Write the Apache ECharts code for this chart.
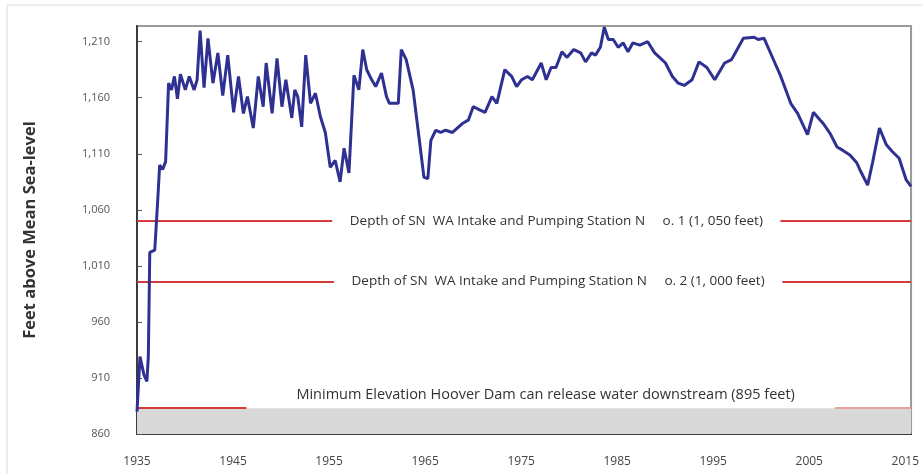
<!DOCTYPE html>
<html>
<head>
<meta charset="utf-8">
<script src="https://cdn.jsdelivr.net/npm/echarts@6/dist/echarts.min.js"></script>
<style>
  html, body { margin: 0; padding: 0; background: #fff; }
  #chart { width: 922px; height: 474px; }
</style>
</head>
<body>
<div id="chart"></div>
<script>
// Lake Mead surface elevation
const years = [1935.00,1935.31,1935.72,1936.03,1936.18,1936.33,1936.85,1937.16,1937.36,1937.67,
  1937.98,1938.29,1938.59,1938.90,1939.21,1939.52,1940.03,1940.44,1940.95,1941.26,
  1941.57,1941.98,1942.39,1942.91,1943.42,1943.93,1944.45,1945.06,1945.57,1946.08,
  1946.50,1947.11,1947.63,1948.14,1948.45,1949.07,1949.58,1950.09,1950.50,1951.12,
  1951.43,1951.74,1952.15,1952.57,1953.07,1953.58,1954.10,1954.61,1955.12,1955.64,
  1956.15,1956.56,1957.07,1957.59,1958.10,1958.51,1958.92,1959.44,1959.85,1960.46,
  1960.98,1961.28,1962.21,1962.52,1963.03,1963.75,1964.36,1964.88,1965.29,1965.60,
  1966.11,1966.62,1967.14,1967.85,1968.88,1969.50,1970.01,1970.73,1971.24,1971.96,
  1972.47,1973.30,1974.01,1974.53,1975.04,1975.66,1976.17,1977.09,1977.61,1978.12,
  1978.63,1979.25,1979.76,1980.48,1981.20,1981.71,1982.33,1982.74,1983.25,1983.66,
  1984.08,1984.59,1985.10,1985.62,1986.13,1986.64,1987.36,1988.18,1988.90,1989.41,
  1990.03,1990.75,1991.36,1991.98,1992.80,1993.52,1994.34,1995.16,1996.19,1996.91,
  1998.14,1999.27,1999.68,2000.30,2001.22,2002.04,2003.07,2003.79,2004.82,2005.43,
  2006.15,2006.46,2007.18,2007.90,2008.51,2009.23,2009.95,2010.26,2011.08,2011.59,
  2012.31,2013.03,2013.64,2014.36,2015.08,2015.60]
const levels = [880,929,913,907,929,1022,1024,1069,1100,1096,
  1103,1173,1167,1179,1159,1181,1167,1179,1167,1176,
  1220,1169,1213,1173,1200,1162,1198,1147,1179,1146,
  1161,1133,1179,1152,1191,1146,1195,1152,1176,1142,
  1167,1161,1134,1198,1155,1164,1143,1129,1098,1104,
  1085,1115,1093,1180,1167,1203,1185,1176,1170,1182,
  1161,1155,1155,1203,1194,1167,1125,1089,1088,1122,
  1131,1129,1131,1129,1137,1140,1152,1149,1147,1161,
  1155,1185,1179,1170,1176,1179,1176,1191,1176,1187,
  1187,1201,1196,1203,1200,1192,1200,1198,1205,1223,
  1212,1212,1205,1209,1201,1209,1207,1210,1200,1196,
  1191,1179,1173,1171,1176,1192,1187,1176,1191,1194,
  1213,1214,1212,1213,1195,1179,1155,1146,1127,1147,
  1140,1137,1128,1116,1113,1109,1102,1096,1082,1102,
  1133,1118,1112,1106,1087,1081]

// reference levels (feet) and their captions
const intakeLevels = [1050, 996]
const intakeTexts = [
  'Depth of SN  WA Intake and Pumping Station N     o. 1 (1, 050 feet)',
  'Depth of SN  WA Intake and Pumping Station N     o. 2 (1, 000 feet)'
]
const minLevel = 883
const minTextLevel = 895
const minText = 'Minimum Elevation Hoover Dam can release water downstream (895 feet)'

const xMin = 1935
const xMax = 2015.6
const yMin = 860
const yMax = 1224

const chart = echarts.init(document.getElementById('chart'))

const font = "'Open Sans', 'Liberation Sans', sans-serif"
const redLine = { color: '#d43a3a', width: 2, type: 'solid' }
const hidden = { color: 'rgba(0,0,0,0)', width: 1, type: 'solid' }

function captionSeg(level, from, to, text, size) {
  return [
    {
      coord: [from, level],
      lineStyle: hidden,
      label: {
        show: true,
        position: 'middle',
        formatter: text,
        fontSize: size,
        verticalAlign: 'middle'
      }
    },
    { coord: [to, level] }
  ]
}

const markLines = []
const gaps = [[1955.33, 2002.0], [1955.5, 2002.2]]
intakeLevels.forEach(function (lv, i) {
  markLines.push([{ coord: [xMin, lv], lineStyle: redLine }, { coord: [gaps[i][0], lv] }])
  markLines.push([{ coord: [gaps[i][1], lv], lineStyle: redLine }, { coord: [xMax, lv] }])
  markLines.push(captionSeg(lv, gaps[i][0], gaps[i][1], intakeTexts[i], 13.5))
})
markLines.push([{ coord: [xMin, minLevel], lineStyle: redLine }, { coord: [1946.4, minLevel] }])
markLines.push([{ coord: [2007.7, minLevel], lineStyle: { color: '#e8a0a0', width: 2, type: 'solid' } }, { coord: [xMax, minLevel] }])
markLines.push(captionSeg(minTextLevel, 1946.8, 2008.3, minText, 14.5))

chart.setOption({
  animation: false,
  backgroundColor: '#fff',
  graphic: [{
    type: 'rect',
    shape: { x: 7, y: 5, width: 940, height: 490 },
    style: { fill: 'none', stroke: '#dcdcdc', lineWidth: 1 },
    silent: true
  }],
  grid: {
    left: 137,
    right: 0,
    top: 26,
    bottom: 40,
    show: true,
    borderColor: '#9a9a9a',
    borderWidth: 2
  },
  xAxis: {
    type: 'value',
    min: xMin,
    max: xMax,
    interval: 10,
    axisLine: { show: true, lineStyle: { color: '#3c3c3c', width: 2 } },
    axisTick: { show: false },
    splitLine: { show: false },
    axisLabel: {
      color: '#444',
      fontFamily: font,
      fontSize: 12,
      margin: 22,
      showMaxLabel: false,
      formatter: function (v) { return String(v) }
    }
  },
  yAxis: {
    type: 'value',
    min: yMin,
    max: yMax,
    interval: 50,
    name: 'Feet above Mean Sea-level',
    nameLocation: 'middle',
    nameRotate: 90,
    nameGap: 98,
    nameTextStyle: { color: '#333', fontFamily: font, fontSize: 16.5, fontWeight: 'bold' },
    axisLine: { show: true, lineStyle: { color: '#3c3c3c', width: 2 } },
    axisTick: { show: true, inside: true, length: 5, lineStyle: { color: '#555' } },
    splitLine: { show: false },
    axisLabel: {
      color: '#555',
      fontFamily: font,
      fontSize: 11,
      margin: 27,
      showMaxLabel: false,
      formatter: function (v) { return v.toLocaleString('en-US') }
    }
  },
  series: [
    {
      type: 'line',
      data: [],
      silent: true,
      markArea: {
        silent: true,
        itemStyle: { color: '#d9d9d9' },
        data: [[{ yAxis: yMin }, { yAxis: minLevel }]]
      },
      markLine: {
        silent: true,
        symbol: ['none', 'none'],
        animation: false,
        label: {
          color: '#333',
          fontFamily: font,
          fontSize: 11,
          distance: 0
        },
        data: markLines
      }
    },
    {
      type: 'line',
      data: years.map(function (y, i) { return [y, levels[i]] }),
      showSymbol: false,
      lineStyle: { color: '#2e3192', width: 3 },
      z: 5
    }
  ]
})
</script>
</body>
</html>
